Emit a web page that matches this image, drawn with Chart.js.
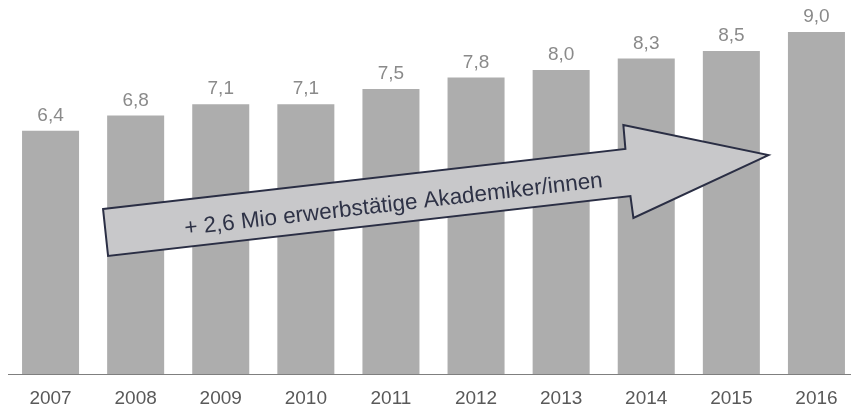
<!DOCTYPE html>
<html>
<head>
<meta charset="utf-8">
<script src="https://cdn.jsdelivr.net/npm/chart.js@4"></script>
<style>
    html, body { margin: 0; padding: 0; background: #fff; overflow: hidden; }
    #wrap { width: 862px; height: 408px; }
</style>
</head>
<body>
<div id="wrap"><canvas id="chart"></canvas></div>
<script>
// Erwerbstätige Akademiker/innen in Mio
const years = ['2007', '2008', '2009', '2010', '2011', '2012', '2013', '2014', '2015', '2016'];
const values = [6.4, 6.8, 7.1, 7.1, 7.5, 7.8, 8.0, 8.3, 8.5, 9.0];
const yMax = 9.84;

const arrowText = '+ 2,6 Mio erwerbstätige Akademiker/innen';
// arrow outline in data space: [category index, value]
const arrowShape = [
    [0.617, 4.34], [6.755, 5.92], [6.731, 6.55], [8.436, 5.76],
    [6.849, 4.105], [6.814, 4.68], [0.676, 3.105]
];
const arrowLabelAt = [4.03, 4.45];

const fontFamily = '"Liberation Sans", Arial, sans-serif';

// value labels above bars, decimal comma
const valueLabels = {
    id: 'valueLabels',
    afterDatasetsDraw(chart) {
        const ctx = chart.ctx;
        const meta = chart.getDatasetMeta(0);
        ctx.save();
        ctx.font = '19px ' + fontFamily;
        ctx.fillStyle = '#8a8a8a';
        ctx.textAlign = 'center';
        ctx.textBaseline = 'alphabetic';
        meta.data.forEach((bar, i) => {
            ctx.fillText(values[i].toFixed(1).replace('.', ','), bar.x, bar.y - 10);
        });
        ctx.restore();
    }
};

// big arrow across the bars
const growthArrow = {
    id: 'growthArrow',
    afterDraw(chart) {
        const ctx = chart.ctx;
        const xs = chart.scales.x, ys = chart.scales.y;
        const pts = arrowShape.map(p => [xs.getPixelForValue(p[0]), ys.getPixelForValue(p[1])]);
        ctx.save();
        ctx.beginPath();
        pts.forEach((p, i) => i ? ctx.lineTo(p[0], p[1]) : ctx.moveTo(p[0], p[1]));
        ctx.closePath();
        ctx.fillStyle = '#c8c8ca';
        ctx.fill();
        ctx.lineWidth = 2;
        ctx.strokeStyle = '#2a2e44';
        ctx.lineJoin = 'miter';
        ctx.stroke();

        const angle = Math.atan2(pts[1][1] - pts[0][1], pts[1][0] - pts[0][0]);
        ctx.translate(xs.getPixelForValue(arrowLabelAt[0]), ys.getPixelForValue(arrowLabelAt[1]));
        ctx.rotate(angle);
        ctx.font = '22.5px ' + fontFamily;
        ctx.fillStyle = '#2e3246';
        ctx.textAlign = 'center';
        ctx.textBaseline = 'middle';
        ctx.fillText(arrowText, 0, 0);
        ctx.restore();
    }
};

const ctx = document.getElementById('chart').getContext('2d');
new Chart(ctx, {
    type: 'bar',
    data: {
        labels: years,
        datasets: [{
            data: values,
            backgroundColor: '#adadad',
            borderWidth: 0,
            categoryPercentage: 1,
            barPercentage: 0.67
        }]
    },
    options: {
        responsive: true,
        maintainAspectRatio: false,
        animation: false,
        layout: { padding: { left: 8, right: 3, top: 0, bottom: 0 } },
        plugins: {
            legend: { display: false },
            tooltip: { enabled: false }
        },
        scales: {
            x: {
                grid: { display: false, drawTicks: false },
                border: { display: true, color: '#7f7f7f', width: 1 },
                ticks: {
                    color: '#595959',
                    font: { family: fontFamily, size: 19 },
                    padding: 13
                },
                afterFit(scale) {
                    scale.height = 34;
                }
            },
            y: {
                display: false,
                min: 0,
                max: yMax
            }
        }
    },
    plugins: [valueLabels, growthArrow]
});
</script>
</body>
</html>
